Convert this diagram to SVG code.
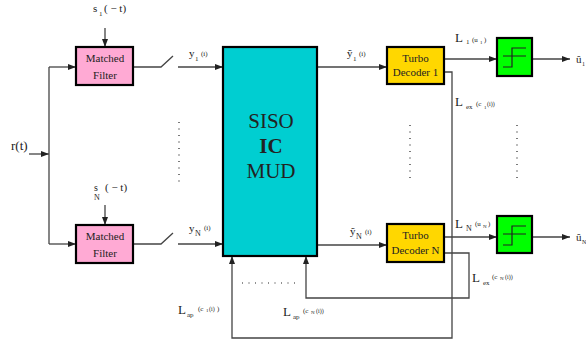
<svg xmlns="http://www.w3.org/2000/svg" width="586" height="345" viewBox="0 0 586 345">
<defs>
<marker id="ah" markerWidth="8" markerHeight="6" refX="8" refY="3" orient="auto" markerUnits="userSpaceOnUse"><path d="M0,0 L8,3 L0,6 Z" fill="#222"/></marker>
<style>
.ln{fill:none;stroke:#444;stroke-width:1.3}
.bx{stroke:#000;stroke-width:2.2}
.t{font-family:"Liberation Serif",serif;fill:#222}
.bt{font-family:"Liberation Serif",serif;fill:#222;font-size:11px;text-anchor:middle}
.dot{stroke:#222;stroke-width:1.2;stroke-dasharray:1 5.5;fill:none}
</style>
</defs>
<rect width="586" height="345" fill="#fff"/>
<g id="connectors">
<path class="ln" d="M29,154 H49" marker-end="url(#ah)"/>
<path class="ln" d="M49,67 V244"/>
<path class="ln" d="M49,67 H76" marker-end="url(#ah)"/>
<path class="ln" d="M49,244 H76" marker-end="url(#ah)"/>
<path class="ln" d="M105,28 V47" marker-end="url(#ah)"/>
<path class="ln" d="M105,205 V225" marker-end="url(#ah)"/>
<path class="ln" d="M133,67 H161 L173,56"/>
<path class="ln" d="M178,67 H223" marker-end="url(#ah)"/>
<path class="ln" d="M133,244 H161 L173,233"/>
<path class="ln" d="M178,244 H223" marker-end="url(#ah)"/>
<path class="ln" d="M317,67 H387" marker-end="url(#ah)"/>
<path class="ln" d="M317,245 H387" marker-end="url(#ah)"/>
<path class="ln" d="M444,59 H497" marker-end="url(#ah)"/>
<path class="ln" d="M532,59 H570" marker-end="url(#ah)"/>
<path class="ln" d="M444,237 H497" marker-end="url(#ah)"/>
<path class="ln" d="M532,237 H570" marker-end="url(#ah)"/>
<path class="ln" d="M444,72 H452 V338 H232 V256" marker-end="url(#ah)"/>
<path class="ln" d="M444,253 H469 V298 H306 V256" marker-end="url(#ah)"/>
<path class="dot" d="M179,122 V182"/>
<path class="dot" d="M410,125 V183"/>
<path class="dot" d="M517,125 V183"/>
<path class="dot" d="M242,283 H300"/>
</g>
<g id="mf1">
<rect class="bx" x="76" y="47" width="57" height="38" fill="#ffaad4"/>
<text class="bt" x="105" y="62">Matched</text>
<text class="bt" x="105" y="79">Filter</text>
</g>
<g id="mfN">
<rect class="bx" x="76" y="225" width="57" height="38" fill="#ffaad4"/>
<text class="bt" x="105" y="240">Matched</text>
<text class="bt" x="105" y="257">Filter</text>
</g>
<g id="mud">
<rect class="bx" x="223" y="47" width="94" height="209" fill="#00ced1"/>
<text class="t" x="271" y="128" font-size="21" text-anchor="middle">SISO</text>
<text class="t" x="271" y="153" font-size="21" font-weight="bold" text-anchor="middle">IC</text>
<text class="t" x="271" y="178" font-size="21" text-anchor="middle">MUD</text>
</g>
<g id="td1">
<rect class="bx" x="387" y="47" width="57" height="37" fill="#ffd700"/>
<text class="bt" x="415.5" y="62">Turbo</text>
<text class="bt" x="415.5" y="76">Decoder 1</text>
</g>
<g id="tdN">
<rect class="bx" x="387" y="224" width="57" height="38" fill="#ffd700"/>
<text class="bt" x="415.5" y="239">Turbo</text>
<text class="bt" x="415.5" y="254">Decoder N</text>
</g>
<g id="dec1">
<rect class="bx" x="497" y="38" width="35" height="38" fill="#00ff00"/>
<path d="M503,56 H526 M503,67 H512 V48 H526" fill="none" stroke="#222" stroke-width="1.2"/>
</g>
<g id="decN">
<rect class="bx" x="497" y="216" width="35" height="37" fill="#00ff00"/>
<path d="M503,234 H526 M503,245 H512 V226 H526" fill="none" stroke="#222" stroke-width="1.2"/>
</g>
<g id="labels">
<text class="t" x="93" y="12" font-size="11">s</text><text class="t" x="99" y="16" font-size="7">1</text><text class="t" x="104" y="12" font-size="11">( − t)</text>
<text class="t" x="94" y="191" font-size="10">s</text><text class="t" x="94" y="200" font-size="8">N</text><text class="t" x="105" y="191" font-size="11">( − t)</text>
<text class="t" x="11" y="150" font-size="13">r(t)</text>
<text class="t" x="189" y="57" font-size="11">y</text><text class="t" x="195" y="61" font-size="7">1</text><text class="t" x="201" y="56" font-size="7">(i)</text>
<text class="t" x="189" y="232" font-size="11">y</text><text class="t" x="195" y="236" font-size="8">N</text><text class="t" x="204" y="230" font-size="7">(i)</text>
<text class="t" x="347" y="57" font-size="11">ỹ</text><text class="t" x="353" y="61" font-size="7">1</text><text class="t" x="359" y="56" font-size="7">(i)</text>
<text class="t" x="350" y="235" font-size="11">ỹ</text><text class="t" x="356" y="239" font-size="8">N</text><text class="t" x="365" y="234" font-size="7">(i)</text>
<text class="t" x="455" y="42" font-size="13">L</text><text class="t" x="466" y="44" font-size="7">1</text><text class="t" x="472" y="42" font-size="7">(u</text><text class="t" x="480" y="44" font-size="5">1</text><text class="t" x="484" y="42" font-size="7">)</text>
<text class="t" x="455" y="106" font-size="13">L</text><text class="t" x="466" y="109" font-size="7">ex</text><text class="t" x="476" y="106" font-size="7">(c</text><text class="t" x="484" y="109" font-size="5">1</text><text class="t" x="487" y="106" font-size="6">(i))</text>
<text class="t" x="455" y="228" font-size="13">L</text><text class="t" x="466" y="231" font-size="8">N</text><text class="t" x="475" y="226" font-size="7">(u</text><text class="t" x="483" y="228" font-size="5">N</text><text class="t" x="488" y="226" font-size="7">)</text>
<text class="t" x="472" y="282" font-size="13">L</text><text class="t" x="483" y="285" font-size="7">ex</text><text class="t" x="492" y="279" font-size="7">(c</text><text class="t" x="500" y="280" font-size="5">N</text><text class="t" x="505" y="279" font-size="6">(i))</text>
<text class="t" x="178" y="314" font-size="13">L</text><text class="t" x="187" y="317" font-size="7">ap</text><text class="t" x="198" y="311" font-size="7">(c</text><text class="t" x="206" y="312" font-size="5">1</text><text class="t" x="209" y="311" font-size="6">(i)</text><text class="t" x="217" y="311" font-size="7">)</text>
<text class="t" x="283" y="316" font-size="13">L</text><text class="t" x="293" y="319" font-size="7">ap</text><text class="t" x="303" y="313" font-size="7">(c</text><text class="t" x="311" y="314" font-size="5">N</text><text class="t" x="316" y="313" font-size="6">(i))</text>
<text class="t" x="576" y="63" font-size="11">û</text><text class="t" x="582" y="66" font-size="6">1</text>
<text class="t" x="576" y="241" font-size="11">û</text><text class="t" x="582" y="244" font-size="6">N</text>
</g>
</svg>
